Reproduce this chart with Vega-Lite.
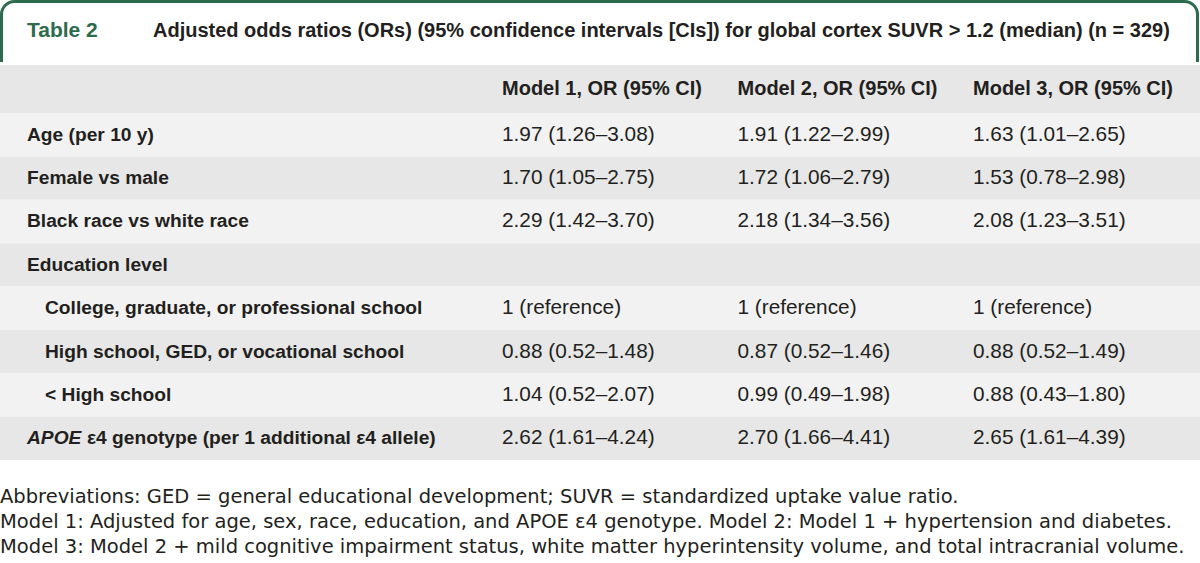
{
  "$schema": "https://vega.github.io/schema/vega-lite/v6.json",
  "width": 1200,
  "height": 563,
  "autosize": {"type": "fit", "contains": "padding"},
  "padding": 0,
  "background": "white",
  "config": {"view": {"stroke": null}},
  "datasets": {
    "rows": [
      {"variable": "Age (per 10 y)", "level": 0},
      {"variable": "Female vs male", "level": 0},
      {"variable": "Black race vs white race", "level": 0},
      {"variable": "Education level", "level": 0},
      {"variable": "College, graduate, or professional school", "level": 1},
      {"variable": "High school, GED, or vocational school", "level": 1},
      {"variable": "< High school", "level": 1},
      {"variable": "APOE ε4 genotype (per 1 additional ε4 allele)", "level": 0, "gene": "APOE", "suffix": "ε4 genotype (per 1 additional ε4 allele)"}
    ],
    "models": [
      {"model": "Model 1, OR (95% CI)"},
      {"model": "Model 2, OR (95% CI)"},
      {"model": "Model 3, OR (95% CI)"}
    ],
    "cells": [
      {"variable": "Age (per 10 y)", "model": "Model 1, OR (95% CI)", "or": "1.97 (1.26–3.08)"},
      {"variable": "Age (per 10 y)", "model": "Model 2, OR (95% CI)", "or": "1.91 (1.22–2.99)"},
      {"variable": "Age (per 10 y)", "model": "Model 3, OR (95% CI)", "or": "1.63 (1.01–2.65)"},
      {"variable": "Female vs male", "model": "Model 1, OR (95% CI)", "or": "1.70 (1.05–2.75)"},
      {"variable": "Female vs male", "model": "Model 2, OR (95% CI)", "or": "1.72 (1.06–2.79)"},
      {"variable": "Female vs male", "model": "Model 3, OR (95% CI)", "or": "1.53 (0.78–2.98)"},
      {"variable": "Black race vs white race", "model": "Model 1, OR (95% CI)", "or": "2.29 (1.42–3.70)"},
      {"variable": "Black race vs white race", "model": "Model 2, OR (95% CI)", "or": "2.18 (1.34–3.56)"},
      {"variable": "Black race vs white race", "model": "Model 3, OR (95% CI)", "or": "2.08 (1.23–3.51)"},
      {"variable": "College, graduate, or professional school", "model": "Model 1, OR (95% CI)", "or": "1 (reference)"},
      {"variable": "College, graduate, or professional school", "model": "Model 2, OR (95% CI)", "or": "1 (reference)"},
      {"variable": "College, graduate, or professional school", "model": "Model 3, OR (95% CI)", "or": "1 (reference)"},
      {"variable": "High school, GED, or vocational school", "model": "Model 1, OR (95% CI)", "or": "0.88 (0.52–1.48)"},
      {"variable": "High school, GED, or vocational school", "model": "Model 2, OR (95% CI)", "or": "0.87 (0.52–1.46)"},
      {"variable": "High school, GED, or vocational school", "model": "Model 3, OR (95% CI)", "or": "0.88 (0.52–1.49)"},
      {"variable": "< High school", "model": "Model 1, OR (95% CI)", "or": "1.04 (0.52–2.07)"},
      {"variable": "< High school", "model": "Model 2, OR (95% CI)", "or": "0.99 (0.49–1.98)"},
      {"variable": "< High school", "model": "Model 3, OR (95% CI)", "or": "0.88 (0.43–1.80)"},
      {"variable": "APOE ε4 genotype (per 1 additional ε4 allele)", "model": "Model 1, OR (95% CI)", "or": "2.62 (1.61–4.24)"},
      {"variable": "APOE ε4 genotype (per 1 additional ε4 allele)", "model": "Model 2, OR (95% CI)", "or": "2.70 (1.66–4.41)"},
      {"variable": "APOE ε4 genotype (per 1 additional ε4 allele)", "model": "Model 3, OR (95% CI)", "or": "2.65 (1.61–4.39)"}
    ],
    "notes": [
      {"n": 1, "note": "Abbreviations: GED = general educational development; SUVR = standardized uptake value ratio."},
      {"n": 2, "note": "Model 1: Adjusted for age, sex, race, education, and APOE ε4 genotype. Model 2: Model 1 + hypertension and diabetes."},
      {"n": 3, "note": "Model 3: Model 2 + mild cognitive impairment status, white matter hyperintensity volume, and total intracranial volume."}
    ]
  },
  "resolve": {"scale": {"x": "independent", "y": "independent", "color": "independent"}},
  "layer": [
    {
      "data": {"values": [{}]},
      "mark": {"type": "rect", "fill": "white", "stroke": "#2c6b4b", "strokeWidth": 3, "cornerRadius": 13},
      "encoding": {"x": {"value": 1.5}, "x2": {"value": 1197.5}, "y": {"value": 1.5}, "y2": {"value": 90}}
    },
    {
      "data": {"values": [{}]},
      "mark": {"type": "rect", "fill": "white"},
      "encoding": {"x": {"value": 0}, "x2": {"value": 1200}, "y": {"value": 62}, "y2": {"value": 65}}
    },
    {
      "data": {"values": [{}]},
      "mark": {"type": "rect", "fill": "#e6e7e6"},
      "encoding": {"x": {"value": 0}, "x2": {"value": 1200}, "y": {"value": 65}, "y2": {"value": 113}}
    },
    {
      "data": {"name": "rows"},
      "mark": {"type": "rect"},
      "encoding": {
        "x": {"value": 0}, "x2": {"value": 1200},
        "y": {"field": "variable", "type": "nominal", "axis": null,
              "scale": {"type": "band", "domain": ["Age (per 10 y)", "Female vs male", "Black race vs white race", "Education level", "College, graduate, or professional school", "High school, GED, or vocational school", "< High school", "APOE ε4 genotype (per 1 additional ε4 allele)"], "range": [113, 460], "paddingInner": 0, "paddingOuter": 0}},
        "color": {"field": "variable", "type": "nominal", "legend": null,
                  "scale": {"domain": ["Age (per 10 y)", "Female vs male", "Black race vs white race", "Education level", "College, graduate, or professional school", "High school, GED, or vocational school", "< High school", "APOE ε4 genotype (per 1 additional ε4 allele)"], "range": ["#f2f2f2", "#e6e7e6", "#f2f2f2", "#e6e7e6", "#f2f2f2", "#e6e7e6", "#f2f2f2", "#e6e7e6"]}}
      }
    },
    {
      "data": {"values": [{"t": "Table 2"}]},
      "mark": {"type": "text", "align": "left", "baseline": "middle", "font": "Liberation Sans", "fontWeight": "bold", "fontSize": 21, "fill": "#2c6b4b"},
      "encoding": {"text": {"field": "t"}, "x": {"value": 27}, "y": {"value": 31}}
    },
    {
      "data": {"values": [{"t": "Adjusted odds ratios (ORs) (95% confidence intervals [CIs]) for global cortex SUVR > 1.2 (median) (n = 329)"}]},
      "mark": {"type": "text", "align": "left", "baseline": "middle", "font": "Liberation Sans", "fontWeight": "bold", "fontSize": 20, "fill": "#231f20"},
      "encoding": {"text": {"field": "t"}, "x": {"value": 153}, "y": {"value": 31}}
    },
    {
      "data": {"name": "models"},
      "mark": {"type": "text", "align": "left", "baseline": "middle", "font": "Liberation Sans", "fontWeight": "bold", "fontSize": 20, "fill": "#231f20"},
      "encoding": {
        "text": {"field": "model"},
        "x": {"field": "model", "type": "nominal", "axis": null, "scale": {"type": "point", "domain": ["Model 1, OR (95% CI)", "Model 2, OR (95% CI)", "Model 3, OR (95% CI)"], "range": [502, 973], "padding": 0}},
        "y": {"value": 89}
      }
    },
    {
      "data": {"name": "rows"},
      "transform": [{"filter": "!datum.gene"}],
      "mark": {"type": "text", "align": "left", "baseline": "middle", "font": "Liberation Sans", "fontWeight": "bold", "fontSize": 19.2, "fill": "#231f20"},
      "encoding": {
        "text": {"field": "variable"},
        "x": {"field": "level", "type": "ordinal", "axis": null, "scale": {"type": "point", "domain": [0, 1], "range": [27, 45], "padding": 0}},
        "y": {"field": "variable", "type": "nominal", "axis": null,
              "scale": {"type": "band", "domain": ["Age (per 10 y)", "Female vs male", "Black race vs white race", "Education level", "College, graduate, or professional school", "High school, GED, or vocational school", "< High school", "APOE ε4 genotype (per 1 additional ε4 allele)"], "range": [113, 460], "paddingInner": 0, "paddingOuter": 0}}
      }
    },
    {
      "data": {"name": "rows"},
      "transform": [{"filter": "datum.gene"}],
      "mark": {"type": "text", "align": "left", "baseline": "middle", "font": "Liberation Sans", "fontWeight": "bold", "fontStyle": "italic", "fontSize": 19.2, "fill": "#231f20"},
      "encoding": {
        "text": {"field": "gene"},
        "x": {"field": "level", "type": "ordinal", "axis": null, "scale": {"type": "point", "domain": [0, 1], "range": [27, 45], "padding": 0}},
        "y": {"field": "variable", "type": "nominal", "axis": null,
              "scale": {"type": "band", "domain": ["Age (per 10 y)", "Female vs male", "Black race vs white race", "Education level", "College, graduate, or professional school", "High school, GED, or vocational school", "< High school", "APOE ε4 genotype (per 1 additional ε4 allele)"], "range": [113, 460], "paddingInner": 0, "paddingOuter": 0}}
      }
    },
    {
      "data": {"name": "rows"},
      "transform": [{"filter": "datum.gene"}],
      "mark": {"type": "text", "align": "left", "baseline": "middle", "font": "Liberation Sans", "fontWeight": "bold", "fontSize": 19.2, "fill": "#231f20", "dx": 60},
      "encoding": {
        "text": {"field": "suffix"},
        "x": {"field": "level", "type": "ordinal", "axis": null, "scale": {"type": "point", "domain": [0, 1], "range": [27, 45], "padding": 0}},
        "y": {"field": "variable", "type": "nominal", "axis": null,
              "scale": {"type": "band", "domain": ["Age (per 10 y)", "Female vs male", "Black race vs white race", "Education level", "College, graduate, or professional school", "High school, GED, or vocational school", "< High school", "APOE ε4 genotype (per 1 additional ε4 allele)"], "range": [113, 460], "paddingInner": 0, "paddingOuter": 0}}
      }
    },
    {
      "data": {"name": "cells"},
      "mark": {"type": "text", "align": "left", "baseline": "middle", "font": "Liberation Sans", "fontSize": 20.8, "fill": "#231f20"},
      "encoding": {
        "text": {"field": "or"},
        "x": {"field": "model", "type": "nominal", "axis": null, "scale": {"type": "point", "domain": ["Model 1, OR (95% CI)", "Model 2, OR (95% CI)", "Model 3, OR (95% CI)"], "range": [502, 973], "padding": 0}},
        "y": {"field": "variable", "type": "nominal", "axis": null,
              "scale": {"type": "band", "domain": ["Age (per 10 y)", "Female vs male", "Black race vs white race", "Education level", "College, graduate, or professional school", "High school, GED, or vocational school", "< High school", "APOE ε4 genotype (per 1 additional ε4 allele)"], "range": [113, 460], "paddingInner": 0, "paddingOuter": 0}}
      }
    },
    {
      "data": {"name": "notes"},
      "mark": {"type": "text", "align": "left", "baseline": "middle", "font": "DejaVu Sans", "fontSize": 19.5, "fill": "#231f20"},
      "encoding": {
        "text": {"field": "note"},
        "x": {"value": 0},
        "y": {"field": "n", "type": "ordinal", "axis": null, "scale": {"type": "point", "domain": [1, 2, 3], "range": [497, 547], "padding": 0}}
      }
    }
  ]
}
